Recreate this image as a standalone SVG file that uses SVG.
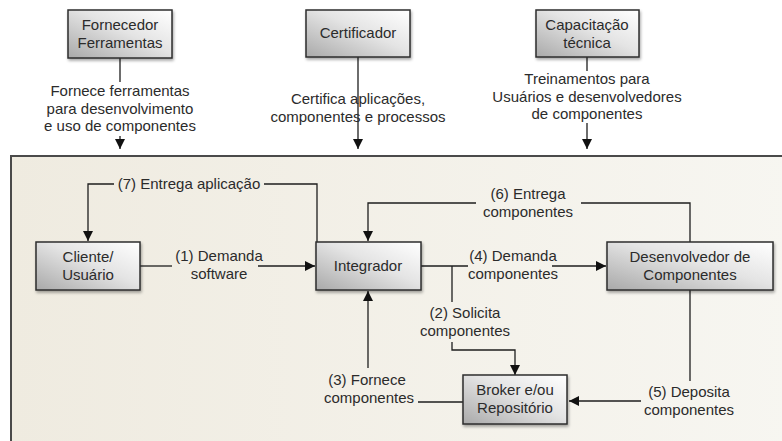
<svg xmlns="http://www.w3.org/2000/svg" width="782" height="441" viewBox="0 0 782 441">
  <defs>
    <linearGradient id="boxFill" x1="0" y1="1" x2="1" y2="0">
      <stop offset="0" stop-color="#a9a9a9"/>
      <stop offset="0.55" stop-color="#e4e4e4"/>
      <stop offset="1" stop-color="#ffffff"/>
    </linearGradient>
    <linearGradient id="panelFill" x1="0" y1="0" x2="1" y2="0">
      <stop offset="0" stop-color="#efebe0"/>
      <stop offset="1" stop-color="#f7f6f1"/>
    </linearGradient>
    <filter id="shadow" x="-10%" y="-10%" width="130%" height="140%">
      <feGaussianBlur in="SourceAlpha" stdDeviation="1.5"/>
      <feOffset dx="1" dy="2" result="b"/>
      <feComponentTransfer><feFuncA type="linear" slope="0.35"/></feComponentTransfer>
      <feMerge><feMergeNode/><feMergeNode in="SourceGraphic"/></feMerge>
    </filter>
    <marker id="arrow" viewBox="0 0 10 10" refX="10" refY="5" markerWidth="10" markerHeight="10" markerUnits="userSpaceOnUse" orient="auto">
      <path d="M0,0 L10,5 L0,10 Z" fill="#111"/>
    </marker>
  </defs>
  <style>
    text { font-family: "Liberation Sans", Arial, sans-serif; font-size: 15px; fill: #2b2b2b; text-anchor: middle; }
    .box { fill: url(#boxFill); stroke: #2e2e2e; stroke-width: 1.5; filter: url(#shadow); }
    .link { fill: none; stroke: #1e1e1e; stroke-width: 1.3; }
    .arr { marker-end: url(#arrow); }
  </style>

  <rect width="782" height="441" fill="#ffffff"/>

  <!-- main panel -->
  <rect id="panel" x="11" y="156" width="780" height="300" fill="url(#panelFill)" stroke="#4a4a4a" stroke-width="2"/>

  <!-- connectors -->
  <g id="connectors">
    <!-- external providers into the panel -->
    <path class="link" d="M120,58 V82"/>
    <path class="link arr" d="M120,136 V149"/>
    <path class="link arr" d="M358,57 V149"/>
    <path class="link" d="M587,57 V71"/>
    <path class="link arr" d="M587,123 V149"/>

    <!-- (7) Entrega aplicação -->
    <path class="link" d="M317,242 V184 H264"/>
    <path class="link arr" d="M114,184 H88 V241"/>

    <!-- (1) Demanda software -->
    <path class="link" d="M140,266 H172"/>
    <path class="link arr" d="M258,266 H315"/>

    <!-- (6) Entrega componentes -->
    <path class="link" d="M690,242 V203 H581"/>
    <path class="link arr" d="M476,203 H368 V241"/>

    <!-- (4) Demanda componentes -->
    <path class="link" d="M421,266 H468"/>
    <path class="link arr" d="M552,266 H606"/>

    <!-- (2) Solicita componentes -->
    <path class="link" d="M452,266 V302"/>
    <path class="link arr" d="M452,342 V350 H515 V375"/>

    <!-- (3) Fornece componentes -->
    <path class="link" d="M463,402 H418"/>
    <path class="link arr" d="M368,368 V291"/>

    <!-- (5) Deposita componentes -->
    <path class="link" d="M690,290 V381"/>
    <path class="link arr" d="M641,401 H569"/>
  </g>

  <!-- connector labels -->
  <g id="labels">
    <text x="120" y="96">Fornece ferramentas</text>
    <text x="120" y="113.5">para desenvolvimento</text>
    <text x="120" y="131">e uso de componentes</text>

    <text x="358" y="104">Certifica aplicações,</text>
    <text x="358" y="121.5">componentes e processos</text>

    <text x="587" y="84">Treinamentos para</text>
    <text x="587" y="101.5">Usuários e desenvolvedores</text>
    <text x="587" y="119">de componentes</text>

    <text x="189" y="189">(7) Entrega aplicação</text>
    <text x="219" y="261">(1) Demanda</text>
    <text x="219" y="279">software</text>
    <text x="528" y="199">(6) Entrega</text>
    <text x="528" y="217">componentes</text>
    <text x="513" y="261">(4) Demanda</text>
    <text x="513" y="279">componentes</text>
    <text x="465" y="318">(2) Solicita</text>
    <text x="465" y="336">componentes</text>
    <text x="367" y="385">(3) Fornece</text>
    <text x="369" y="403">componentes</text>
    <text x="689" y="397">(5) Deposita</text>
    <text x="689" y="415">componentes</text>
  </g>

  <!-- external provider nodes -->
  <g id="fornecedor">
    <rect class="box" x="68" y="10" width="104" height="48"/>
    <text x="120" y="30">Fornecedor</text>
    <text x="120" y="48">Ferramentas</text>
  </g>
  <g id="certificador">
    <rect class="box" x="306" y="10" width="104" height="47"/>
    <text x="358" y="38">Certificador</text>
  </g>
  <g id="capacitacao">
    <rect class="box" x="536" y="10" width="103" height="47"/>
    <text x="587" y="30">Capacitação</text>
    <text x="587" y="48">técnica</text>
  </g>

  <!-- process nodes -->
  <g id="cliente">
    <rect class="box" x="36" y="242" width="104" height="48"/>
    <text x="88" y="262">Cliente/</text>
    <text x="88" y="280">Usuário</text>
  </g>
  <g id="integrador">
    <rect class="box" x="316" y="242" width="105" height="48"/>
    <text x="368" y="271">Integrador</text>
  </g>
  <g id="desenvolvedor">
    <rect class="box" x="607" y="242" width="166" height="48"/>
    <text x="690" y="262">Desenvolvedor de</text>
    <text x="690" y="280">Componentes</text>
  </g>
  <g id="broker">
    <rect class="box" x="463" y="375" width="104" height="49"/>
    <text x="515" y="395">Broker e/ou</text>
    <text x="515" y="413">Repositório</text>
  </g>
</svg>
